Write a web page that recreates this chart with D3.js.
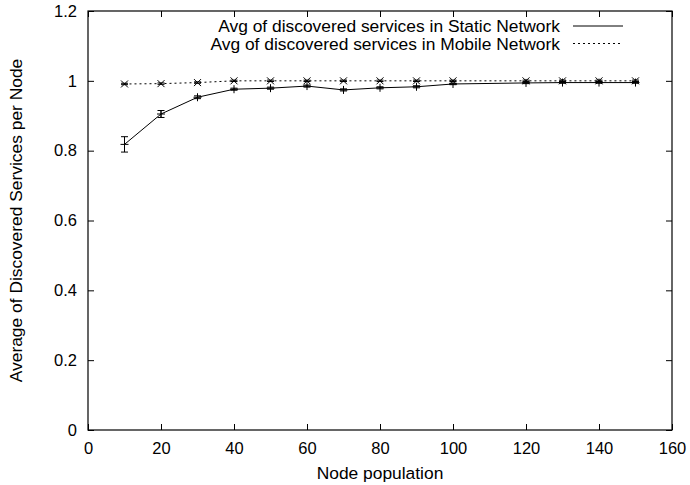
<!DOCTYPE html>
<meta charset="utf-8">
<body style="margin:0;background:#fff">
<script src="https://cdn.jsdelivr.net/npm/d3@7"></script>
<div id="chart"></div>
<script>
    // data
    var nodes = [10, 20, 30, 40, 50, 60, 70, 80, 90, 100, 120, 130, 140, 150];
    var staticAvg = [0.818, 0.905, 0.953, 0.976, 0.979, 0.985, 0.974, 0.980, 0.983, 0.991, 0.994, 0.995, 0.995, 0.995];
    var staticErr = [0.022, 0.010, 0.004, 0.003, 0.003, 0.003, 0.003, 0.003, 0.003, 0.002, 0.002, 0.002, 0.002, 0.002];
    var mobileAvg = [0.991, 0.992, 0.995, 1.0, 1.0, 1.0, 1.0, 1.0, 1.0, 1.0, 1.0, 1.0, 1.0, 1.0];
    var mobileErr = [0.002, 0.002, 0.002, 0.002, 0.002, 0.002, 0.002, 0.002, 0.002, 0.002, 0.002, 0.002, 0.002, 0.002];
    var xTicks = [0, 20, 40, 60, 80, 100, 120, 140, 160];
    var yTicks = [0, 0.2, 0.4, 0.6, 0.8, 1, 1.2];

    var margin = {top: 11, right: 18, bottom: 55, left: 88},
        width = 690 - margin.left - margin.right,
        height = 485 - margin.top - margin.bottom;

    var font = "'Liberation Sans', Arial, sans-serif";

    var svg = d3.select("#chart")
      .append("svg")
        .attr("width", 690)
        .attr("height", 485)
        .style("font-family", font)
      .append("g")
        .attr("transform", "translate(" + margin.left + "," + margin.top + ")");

    var x = d3.scaleLinear().domain([0, 160]).range([0, width]);
    var y = d3.scaleLinear().domain([0, 1.2]).range([height, 0]);

    // axes, gnuplot style: ticks inside and mirrored
    var tl = 6;
    svg.append("g")
      .attr("transform", "translate(0," + height + ")")
      .call(d3.axisBottom(x).tickValues(xTicks).tickSizeInner(-tl).tickSizeOuter(0).tickPadding(12).tickFormat(d3.format("d")));
    svg.append("g")
      .call(d3.axisTop(x).tickValues(xTicks).tickSizeInner(-tl).tickSizeOuter(0).tickFormat(""));
    svg.append("g")
      .call(d3.axisLeft(y).tickValues(yTicks).tickSizeInner(-tl).tickSizeOuter(0).tickPadding(11).tickFormat(function(d) { return d == 0 || d == 1 ? d3.format("d")(d) : d3.format(".1f")(d); }));
    svg.append("g")
      .attr("transform", "translate(" + width + ",0)")
      .call(d3.axisRight(y).tickValues(yTicks).tickSizeInner(-tl).tickSizeOuter(0).tickFormat(""));
    svg.selectAll(".domain").remove();
    svg.selectAll(".tick text").attr("font-size", 16.5).attr("font-family", font).attr("fill", "#000");
    svg.selectAll(".tick line").attr("stroke", "#000");

    svg.append("rect")
      .attr("width", width).attr("height", height)
      .attr("fill", "none").attr("stroke", "#000").attr("stroke-width", 1.2);

    function drawSeries(vals, errs, dash, mark) {
      var pts = nodes.map(function(n, i) { return {x: n, v: vals[i], e: errs[i]}; });
      svg.append("path")
        .datum(pts)
        .attr("fill", "none")
        .attr("stroke", "#000")
        .attr("stroke-width", 1)
        .attr("stroke-dasharray", dash)
        .attr("d", d3.line().x(function(d) { return x(d.x); }).y(function(d) { return y(d.v); }));
      var g = svg.append("g").attr("stroke", "#000").attr("stroke-width", 1).attr("fill", "none");
      pts.forEach(function(d) {
        var px = x(d.x), py = y(d.v), y1 = y(d.v + d.e), y2 = y(d.v - d.e);
        g.append("path").attr("d", "M" + px + "," + y1 + "V" + y2 +
          "M" + (px - 3.5) + "," + y1 + "H" + (px + 3.5) +
          "M" + (px - 3.5) + "," + y2 + "H" + (px + 3.5));
        if (mark == "+") {
          g.append("path").attr("d", "M" + (px - 4) + "," + py + "H" + (px + 4) + "M" + px + "," + (py - 4) + "V" + (py + 4));
        } else {
          g.append("path").attr("d", "M" + (px - 3.5) + "," + (py - 3.5) + "L" + (px + 3.5) + "," + (py + 3.5) +
            "M" + (px - 3.5) + "," + (py + 3.5) + "L" + (px + 3.5) + "," + (py - 3.5));
        }
      });
    }
    drawSeries(staticAvg, staticErr, null, "+");
    drawSeries(mobileAvg, mobileErr, "2,3", "x");

    // legend
    var legend = [
      {label: "Avg of discovered services in Static Network", dash: null},
      {label: "Avg of discovered services in Mobile Network", dash: "2,3"}
    ];
    legend.forEach(function(l, i) {
      var ly = 15 + i * 17.5;
      svg.append("text")
        .attr("x", 472).attr("y", ly + 6)
        .attr("text-anchor", "end")
        .attr("font-size", 17.4)
        .text(l.label);
      svg.append("line")
        .attr("x1", 485).attr("x2", 535)
        .attr("y1", ly).attr("y2", ly)
        .attr("stroke", "#000").attr("stroke-width", 1)
        .attr("stroke-dasharray", l.dash);
    });

    // axis labels
    svg.append("text")
      .attr("text-anchor", "middle")
      .attr("x", width / 2)
      .attr("y", height + 49)
      .attr("font-size", 17.4)
      .text("Node population");
    svg.append("text")
      .attr("text-anchor", "middle")
      .attr("transform", "rotate(-90)")
      .attr("x", -height / 2)
      .attr("y", -66)
      .attr("font-size", 17.4)
      .text("Average of Discovered Services per Node");
</script>
</body>
